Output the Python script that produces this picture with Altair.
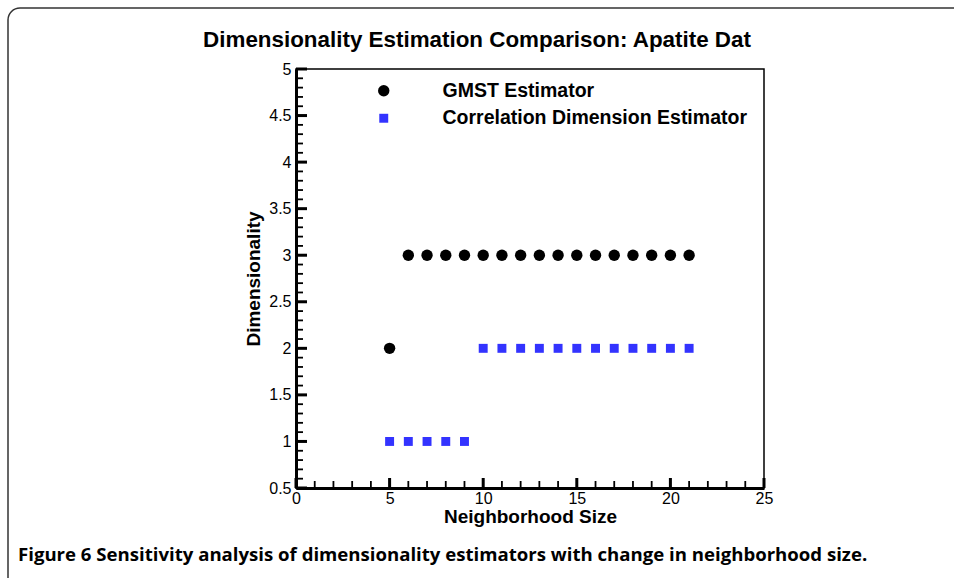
import altair as alt
import pandas as pd

# ---- data ----
gmst_x = [5, 6, 7, 8, 9, 10, 11, 12, 13, 14, 15, 16, 17, 18, 19, 20, 21]
gmst_y = [2, 3, 3, 3, 3, 3, 3, 3, 3, 3, 3, 3, 3, 3, 3, 3, 3]
corr_x = [5, 6, 7, 8, 9, 10, 11, 12, 13, 14, 15, 16, 17, 18, 19, 20, 21]
corr_y = [1, 1, 1, 1, 1, 2, 2, 2, 2, 2, 2, 2, 2, 2, 2, 2, 2]
series_names = ["GMST Estimator", "Correlation Dimension Estimator"]

x_major = [0, 5, 10, 15, 20, 25]
x_minor = [1, 2, 3, 4, 6, 7, 8, 9, 11, 12, 13, 14, 16, 17, 18, 19, 21, 22, 23, 24]
y_major = [0.5, 1, 1.5, 2, 2.5, 3, 3.5, 4, 4.5, 5]
y_minor = [0.6, 0.7, 0.8, 0.9, 1.1, 1.2, 1.3, 1.4, 1.6, 1.7, 1.8, 1.9,
           2.1, 2.2, 2.3, 2.4, 2.6, 2.7, 2.8, 2.9, 3.1, 3.2, 3.3, 3.4,
           3.6, 3.7, 3.8, 3.9, 4.1, 4.2, 4.3, 4.4, 4.6, 4.7, 4.8, 4.9]

title_text = "Dimensionality Estimation Comparison: Apatite Dat"
caption_text = "Figure 6 Sensitivity analysis of dimensionality estimators with change in neighborhood size."

W, H = 468, 419
FONT = "Liberation Sans"

df = pd.DataFrame({
    "size": gmst_x + corr_x,
    "dim": gmst_y + corr_y,
    "series": [series_names[0]] * len(gmst_x) + [series_names[1]] * len(corr_x),
})

xscale = alt.Scale(domain=[0, 25], nice=False, zero=False)
yscale = alt.Scale(domain=[0.5, 5], nice=False, zero=False)

xaxis = alt.Axis(values=x_major, title="Neighborhood Size", format="~g", titlePadding=1,
                 labelFontSize=16)
yaxis = alt.Axis(values=y_major, title="Dimensionality", format="~g", titlePadding=5,
                 labelFontSize=16)

leg = alt.Legend(title=None, orient="none", legendX=78, legendY=12,
                 labelFont=FONT, labelFontSize=19.5, labelFontWeight="bold",
                 labelColor="black", labelOffset=49, rowPadding=6.5, labelLimit=600,
                 symbolSize=100, padding=0, symbolStrokeWidth=0)
color = alt.Color("series:N", scale=alt.Scale(domain=series_names, range=["black", "#3333ff"]),
                  legend=leg)
shape = alt.Shape("series:N", scale=alt.Scale(domain=series_names, range=["circle", "square"]),
                  legend=leg)
size = alt.Size("series:N", scale=alt.Scale(domain=series_names, range=[130, 80]), legend=None)

points = alt.Chart(df).mark_point(filled=True, opacity=1, strokeWidth=0).encode(
    x=alt.X("size:Q", scale=xscale, axis=xaxis),
    y=alt.Y("dim:Q", scale=yscale, axis=yaxis),
    color=color, shape=shape, size=size,
)

def yticks(vals, length, sw):
    return alt.Chart(pd.DataFrame({"dim": vals})).mark_rule(color="black", strokeWidth=sw).encode(
        y=alt.Y("dim:Q", scale=yscale, axis=yaxis),
        x=alt.value(0), x2=alt.value(length))

def xticks(vals, length, sw):
    return alt.Chart(pd.DataFrame({"size": vals})).mark_rule(color="black", strokeWidth=sw).encode(
        x=alt.X("size:Q", scale=xscale, axis=xaxis),
        y=alt.value(H), y2=alt.value(H - length))

one = pd.DataFrame({"a": [0]})
border = alt.Chart(one).mark_rect(fill="transparent", stroke="#333333", strokeWidth=1.5,
                                  cornerRadius=12).encode(
    x=alt.value(-288), x2=alt.value(900), y=alt.value(-61), y2=alt.value(700))

title = alt.Chart(pd.DataFrame({"t": [title_text]})).mark_text(
    font=FONT, fontSize=22.4, fontWeight="bold", color="black", align="center", baseline="alphabetic"
).encode(text="t:N", x=alt.value(181), y=alt.value(-22))

caption = alt.Chart(pd.DataFrame({"t": [caption_text]})).mark_text(
    font="Open Sans", fontSize=18.6, fontWeight="bold", color="black", align="left", baseline="alphabetic"
).encode(text="t:N", x=alt.value(-278), y=alt.value(492))

chart = alt.layer(
    border, title, caption,
    yticks(y_major, 11, 3), yticks(y_minor, 7, 1.8), xticks(x_major, 10, 3), xticks(x_minor, 7, 1.8),
    points,
).properties(
    width=W, height=H,
    padding={"left": 296, "top": 69, "right": 190, "bottom": 90},
    autosize=alt.AutoSizeParams(type="none"),
    background="white",
).configure_view(
    stroke="black", strokeWidth=1.5
).configure_axis(
    domainWidth=3, domainColor="black", ticks=False, grid=False,
    labelFont=FONT, labelFontSize=16, labelColor="black", labelFlush=False,
    titleFont=FONT, titleFontSize=19, titleFontWeight="bold", titleColor="black",
).configure_axisX(labelPadding=2).configure_axisY(labelPadding=5)

chart.save("out.html", embed_options={"renderer": "svg", "actions": False})
